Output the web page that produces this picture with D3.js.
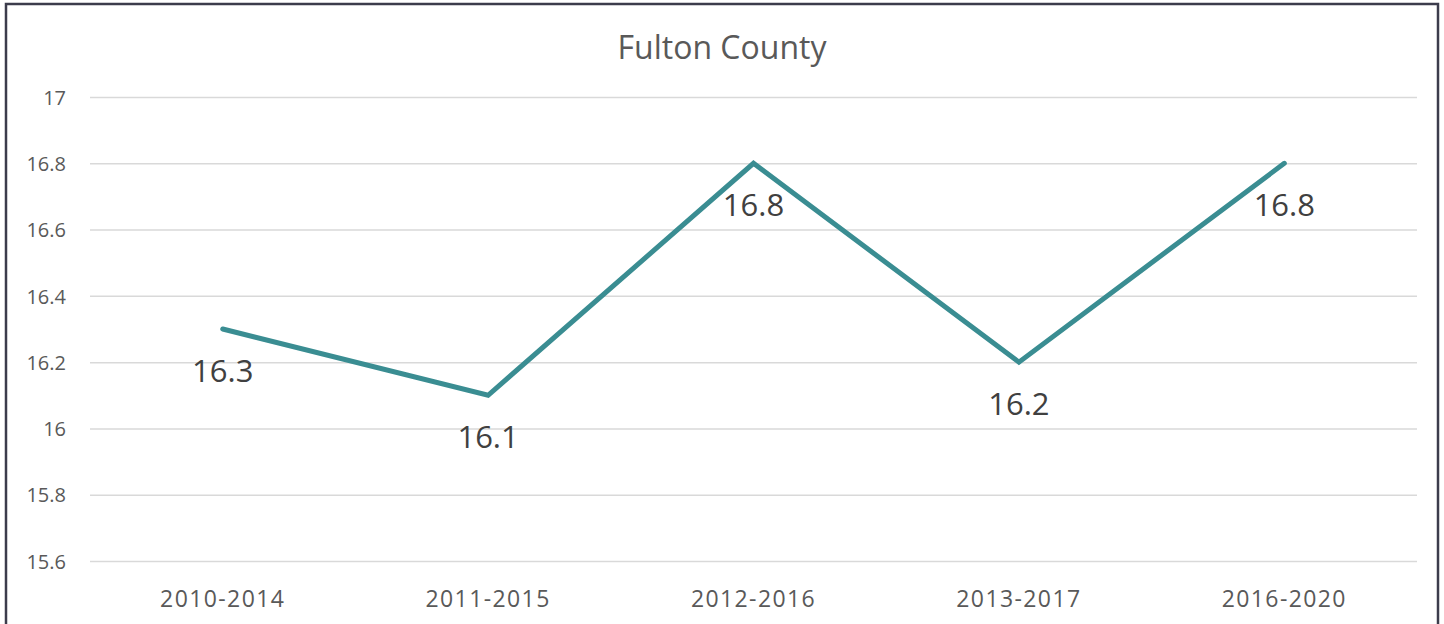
<!DOCTYPE html>
<html><head><meta charset="utf-8">
<script src="https://cdn.jsdelivr.net/npm/d3@7"></script>
<style>body{margin:0;background:#fff}svg{display:block}</style>
</head><body>
<svg id="c" width="1444" height="624"></svg>
<script>
const categories = ["2010-2014","2011-2015","2012-2016","2013-2017","2016-2020"];
const values = [16.3,16.1,16.8,16.2,16.8];
const yTicks = [15.6,15.8,16,16.2,16.4,16.6,16.8,17];
const title = "Fulton County";

const svg = d3.select("#c");
const font = "'Open Sans', 'Liberation Sans', sans-serif";
svg.append("rect").attr("x",6).attr("y",4).attr("width",1432).attr("height",640)
  .attr("fill","#fff").attr("stroke","#3c3c4c").attr("stroke-width",2.5);

const x = d3.scaleBand().domain(categories).range([90,1417]);
const y = d3.scaleLinear().domain([15.6,17]).range([561,97]);

svg.append("text").attr("x",722).attr("y",59).attr("text-anchor","middle")
  .attr("font-family",font).attr("font-size",32).attr("fill","#595959").text(title);

const yAxis = d3.axisLeft(y).tickValues(yTicks).tickSize(-(1417-90)).tickPadding(24)
  .tickFormat(d=>d3.format("")(+d.toFixed(1)));
const gy = svg.append("g").attr("transform","translate(90,0)").call(yAxis);
gy.select(".domain").remove();
gy.selectAll(".tick line").attr("stroke","#d9d9d9").attr("stroke-width",1.5);
gy.selectAll(".tick text").attr("font-family",font).attr("font-size",20).attr("fill","#595959").attr("dy","0.36em");

const xAxis = d3.axisBottom(x).tickSize(0).tickPadding(30);
const gx = svg.append("g").attr("transform","translate(0,561)").call(xAxis);
gx.select(".domain").remove();
gx.selectAll(".tick text").attr("font-family",font).attr("font-size",23).attr("letter-spacing","1.4px")
  .attr("fill","#595959").attr("dy",null).attr("y",46);

const line = d3.line().x((d,i)=>x(categories[i])+x.bandwidth()/2).y(d=>y(d));
svg.append("path").datum(values).attr("d",line).attr("fill","none")
  .attr("stroke","#3a8d92").attr("stroke-width",5).attr("stroke-linecap","round").attr("stroke-linejoin","miter");

svg.selectAll(".lbl").data(values).enter().append("text").attr("class","lbl")
  .attr("x",(d,i)=>x(categories[i])+x.bandwidth()/2).attr("y",d=>y(d)+53)
  .attr("text-anchor","middle").attr("font-family",font).attr("font-size",31).attr("fill","#404040")
  .text(d=>d.toFixed(1));
</script>
</body></html>
